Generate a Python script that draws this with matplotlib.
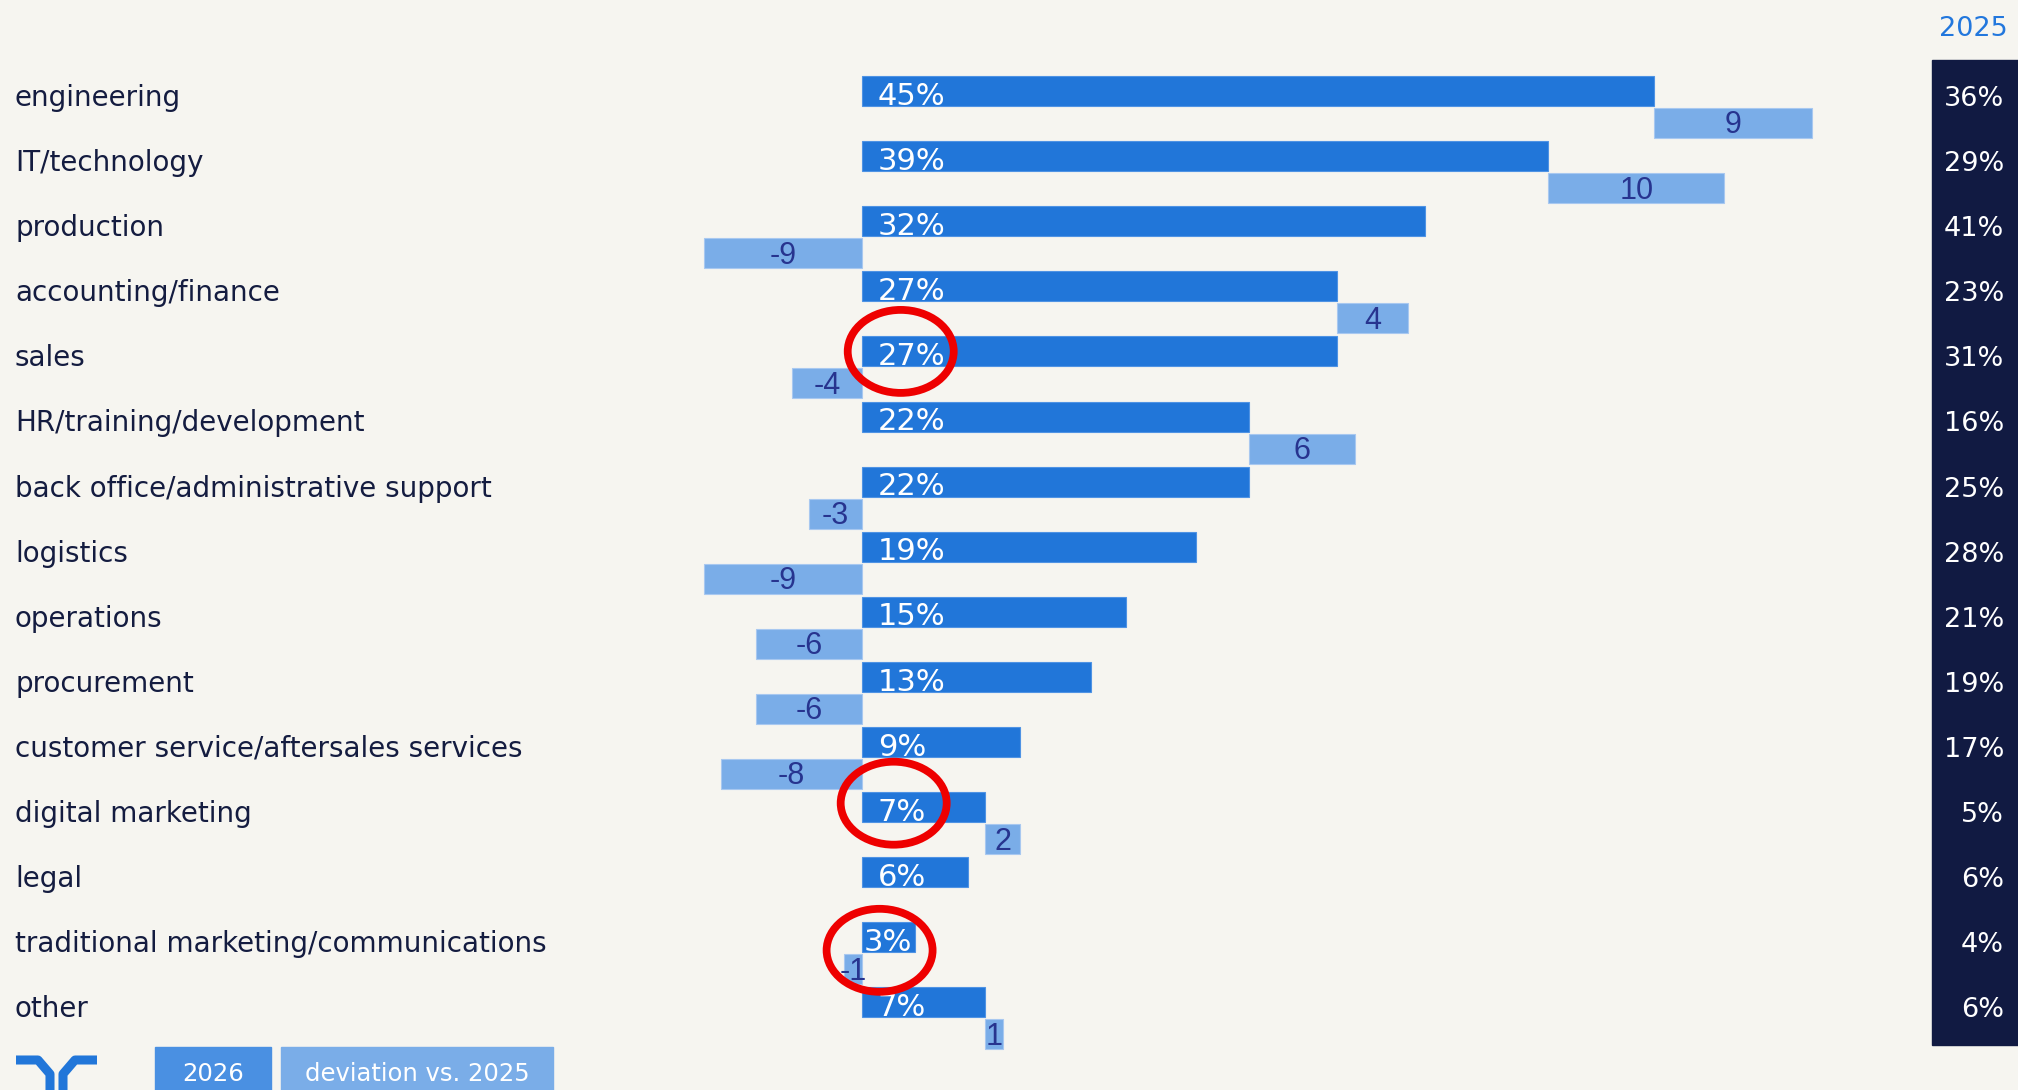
import numpy as np
import matplotlib
matplotlib.use("Agg")
import matplotlib.pyplot as plt
from matplotlib.patches import Rectangle, Ellipse

# data
categories = ["engineering", "IT/technology", "production", "accounting/finance", "sales",
              "HR/training/development", "back office/administrative support", "logistics",
              "operations", "procurement", "customer service/aftersales services",
              "digital marketing", "legal", "traditional marketing/communications", "other"]
share_2026 = np.array([45, 39, 32, 27, 27, 22, 22, 19, 15, 13, 9, 7, 6, 3, 7])
share_2025 = np.array([36, 29, 41, 23, 31, 16, 25, 28, 21, 19, 17, 5, 6, 4, 6])
deviation = np.array([9, 10, -9, 4, -4, 6, -3, -9, -6, -6, -8, 2, 0, -1, 1])
# rows that get a red circle around the 2026 label
circled = [4, 11, 13]

# colours
BG = "#f6f5f0"
BAR = "#2176d9"
DEV = "#7aade8"
DEV_TXT = "#27348f"
NAVY = "#111a42"
LABEL = "#141c40"

W, H = 2018, 1090
ZERO_PX, PCT_PX = 862, 17.6     # x layout
ROW0_PX, ROW_PX = 91, 65.1      # y layout

fig = plt.figure(figsize=(W / 100, H / 100), dpi=100, facecolor=BG)
ax = fig.add_axes([0, 0, 1, 1])
ax.set_facecolor(BG)
ax.set_xlim(-ZERO_PX / PCT_PX, (W - ZERO_PX) / PCT_PX)
ax.set_ylim((H - ROW0_PX) / ROW_PX, -ROW0_PX / ROW_PX)
ax.axis("off")

rows = np.arange(len(categories))
bh = 30 / ROW_PX
dev_off = 32 / ROW_PX

ax.barh(rows, share_2026, height=bh, color=BAR, edgecolor="#4f93e4", linewidth=0.8)
dev_left = np.where(deviation > 0, share_2026, 0)
mask = deviation != 0
ax.barh(rows[mask] + dev_off, deviation[mask], left=dev_left[mask], height=bh,
        color=DEV, edgecolor="#a8c8f0", linewidth=0.8)

ytr = ax.get_yaxis_transform()
for i, cat in enumerate(categories):
    ax.text(15 / W, i + 0.23, cat, transform=ytr, ha="left", va="baseline",
            fontsize=20, color=LABEL, family="DejaVu Sans")
    xoff = 0.9 if share_2026[i] >= 5 else 0.1
    ax.text(xoff, i + 0.21, f"{share_2026[i]}%", ha="left", va="baseline",
            fontsize=22, color="white", family="DejaVu Sans")
    if deviation[i] != 0:
        cx = dev_left[i] + deviation[i] / 2
        ax.text(cx, i + dev_off + 0.16, f"{deviation[i]}", ha="center", va="baseline",
                fontsize=22, color=DEV_TXT, family="Liberation Sans")
    ax.text(2004 / W, i + 0.23, f"{share_2025[i]}%", transform=ytr, ha="right",
            va="baseline", fontsize=19.5, color="white", family="DejaVu Sans", zorder=5)

# 2025 column
ax.add_patch(Rectangle((1932 / W, 1 - 1045 / H), (W - 1932) / W, (1045 - 60) / H,
                       transform=ax.transAxes, color=NAVY, zorder=2))
ax.text(2008 / W, 1 - 36 / H, "2025", transform=ax.transAxes, ha="right", va="baseline",
        fontsize=19.5, color="#2277dd", family="DejaVu Sans")

# red circles
for r in circled:
    cx = {4: 2.2, 11: 1.8, 13: 1.0}[r]
    cy = {4: 4.0, 11: 10.94, 13: 13.2}[r]
    ax.add_patch(Ellipse((cx, cy), 106 / PCT_PX, 83 / ROW_PX, fill=False,
                         edgecolor="#ee0000", linewidth=5.6, zorder=6))

# legend boxes
def px(x, y):
    return x / W, 1 - y / H

for x0, x1, col, txt in [(155, 271, "#4a90e2", "2026"), (281, 553, DEV, "deviation vs. 2025")]:
    ax.add_patch(Rectangle(px(x0, H), (x1 - x0) / W, (H - 1047) / H,
                           transform=ax.transAxes, color=col, zorder=3))
    ax.text(*px((x0 + x1) / 2, 1081), txt, transform=ax.transAxes, ha="center",
            va="baseline", fontsize=17.5, color="white", family="DejaVu Sans", zorder=4)

# logo
for pts in [[(16, 1060), (38, 1060), (50, 1074), (50, 1095)],
            [(97, 1060), (75, 1060), (63, 1074), (63, 1095)]]:
    xs, ys = zip(*[px(x, y) for x, y in pts])
    ax.plot(xs, ys, transform=ax.transAxes, color=BAR, lw=6.5, solid_joinstyle="round",
            solid_capstyle="butt")

fig.savefig("out.png", dpi=100, facecolor=BG)
